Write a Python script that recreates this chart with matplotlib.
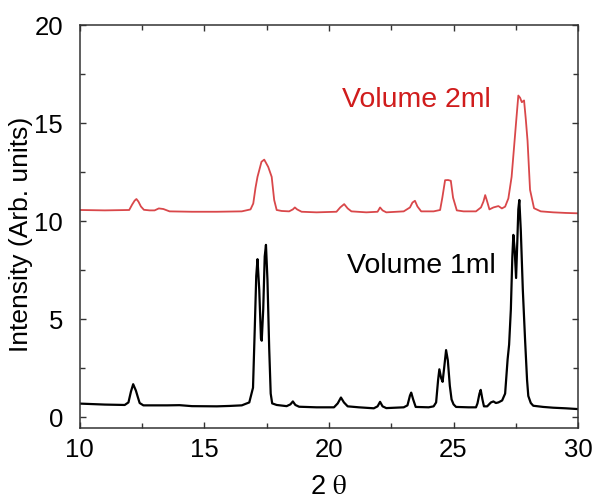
import matplotlib
matplotlib.use("Agg")
import matplotlib.pyplot as plt
from matplotlib.ticker import MultipleLocator

plt.rcParams["font.family"] = ["Liberation Sans", "DejaVu Sans"]
plt.rcParams["mathtext.fontset"] = "stix"

# XRD pattern, 1 ml sample
two_theta_1ml = [10.0, 11.0, 11.8, 11.95, 12.05, 12.14, 12.25, 12.32, 12.4, 12.55, 13.5, 14.0,
                 14.5, 15.5, 16.0, 16.5, 16.8, 16.95, 17.02, 17.08, 17.13, 17.2, 17.27, 17.3,
                 17.36, 17.42, 17.47, 17.53, 17.6, 17.66, 17.72, 17.9, 18.3, 18.45, 18.55,
                 18.65, 18.8, 19.5, 20.2, 20.35, 20.48, 20.6, 20.75, 21.2, 21.8, 21.95, 22.05,
                 22.15, 22.3, 23.0, 23.15, 23.25, 23.3, 23.38, 23.48, 24.0, 24.2, 24.3, 24.38,
                 24.43, 24.5, 24.56, 24.63, 24.7, 24.77, 24.85, 24.92, 25.0, 25.1, 25.6, 25.9,
                 25.96, 26.04, 26.09, 26.16, 26.22, 26.35, 26.5, 26.6, 26.7, 26.8, 26.95, 27.07,
                 27.17, 27.23, 27.3, 27.36, 27.4, 27.45, 27.51, 27.56, 27.6, 27.64, 27.7, 27.78,
                 27.87, 27.95, 28.0, 28.1, 28.2, 28.6, 29.0, 29.5, 30.0]
intensity_1ml = [0.69, 0.64, 0.62, 0.75, 1.3, 1.68, 1.35, 1.05, 0.72, 0.6, 0.6, 0.61,
                 0.56, 0.55, 0.57, 0.6, 0.75, 1.5, 4.5, 7.2, 8.06, 6.5, 4.0, 3.9,
                 5.5, 8.2, 8.79, 7.0, 3.5, 1.2, 0.7, 0.62, 0.56, 0.65, 0.8,
                 0.62, 0.53, 0.5, 0.5, 0.7, 1.0, 0.75, 0.55, 0.5, 0.45, 0.55, 0.78,
                 0.55, 0.46, 0.5, 0.6, 1.1, 1.25, 0.9, 0.52, 0.5, 0.55, 0.75, 1.9,
                 2.44, 2.0, 1.8, 2.6, 3.42, 2.9, 1.6, 0.9, 0.65, 0.52, 0.5, 0.5,
                 0.7, 1.2, 1.39, 0.9, 0.55, 0.55, 0.75, 0.8, 0.72, 0.75, 0.85, 1.2,
                 2.95, 3.7, 5.5, 8.2, 9.3, 8.6, 7.1, 9.0, 10.6, 11.08, 9.5, 6.5,
                 3.96, 1.9, 1.08, 0.72, 0.58, 0.52, 0.48, 0.45, 0.41]

# XRD pattern, 2 ml sample
two_theta_2ml = [10.0, 11.0, 11.98, 12.1, 12.2, 12.27, 12.35, 12.45, 12.57, 12.8, 13.0, 13.17,
                 13.35, 13.6, 14.5, 15.5, 16.5, 16.85, 16.96, 17.05, 17.13, 17.29, 17.4,
                 17.56, 17.7, 17.8, 17.9, 18.1, 18.4, 18.55, 18.63, 18.72, 18.9, 19.5, 20.3,
                 20.45, 20.61, 20.75, 20.9, 21.5, 21.95, 22.05, 22.15, 22.3, 23.0, 23.25,
                 23.35, 23.45, 23.55, 23.7, 24.2, 24.46, 24.55, 24.66, 24.78, 24.89, 24.98,
                 25.13, 25.4, 25.9, 26.1, 26.2, 26.27, 26.35, 26.44, 26.6, 26.8, 26.94,
                 27.07, 27.2, 27.33, 27.43, 27.52, 27.6, 27.67, 27.74, 27.83, 27.9, 27.97,
                 28.07, 28.23, 28.5, 29.0, 29.5, 30.0]
intensity_2ml = [10.57, 10.55, 10.57, 10.85, 11.05, 11.13, 11.0, 10.75, 10.58, 10.55, 10.55, 10.65,
                 10.62, 10.5, 10.48, 10.48, 10.5, 10.6, 10.9, 11.7, 12.26, 13.03, 13.14,
                 12.77, 12.26, 11.08, 10.57, 10.52, 10.5, 10.6, 10.7, 10.6, 10.48, 10.45, 10.48,
                 10.7, 10.87, 10.65, 10.5, 10.45, 10.48, 10.7, 10.55, 10.45, 10.5, 10.7,
                 10.95, 11.04, 10.75, 10.5, 10.5, 10.57, 11.2, 12.09, 12.1, 12.06, 11.2,
                 10.55, 10.5, 10.5, 10.7, 11.0, 11.33, 11.0, 10.6, 10.7, 10.77, 10.65,
                 10.74, 11.16, 12.26, 13.8, 15.2, 16.41, 16.3, 16.07, 16.16, 15.2, 14.1,
                 11.6, 10.66, 10.5, 10.45, 10.42, 10.4]

fig = plt.figure(figsize=(5.96, 5.04), dpi=100)
ax = fig.add_axes([0.134, 0.151, 0.836, 0.799])

ax.plot(two_theta_2ml, intensity_2ml, color="#d9474a", lw=1.3)
ax.plot(two_theta_1ml, intensity_1ml, color="black", lw=1.6)

ax.set_xlim(10, 30)
ax.set_ylim(-0.55, 20)
ax.xaxis.set_major_locator(MultipleLocator(5))
ax.xaxis.set_minor_locator(MultipleLocator(2.5))
ax.yaxis.set_major_locator(MultipleLocator(5))
ax.yaxis.set_minor_locator(MultipleLocator(2.5))
ax.tick_params(which="both", direction="in", top=True, right=True,
               labelsize=18.5, width=1.0, color="#333333")
ax.tick_params(which="major", length=4.5)
ax.tick_params(which="minor", length=3.5)
ax.tick_params(axis="x", which="major", pad=7)
ax.tick_params(axis="y", which="major", pad=12)
for s in ax.spines.values():
    s.set_linewidth(1.1)
    s.set_color("#333333")

ax.set_xlabel(r"2 $\mathrm{\theta}$", fontsize=19.5)
ax.xaxis.set_label_coords(0.5, -0.115)
ax.set_ylabel("Intensity (Arb. units)", fontsize=19)
ax.yaxis.set_label_coords(-0.095, 0.48)

ax.text(20.52, 16.2, "Volume 2ml", color="#d01c1c", fontsize=20.5, va="center", ha="left")
ax.text(20.72, 7.7, "Volume 1ml", color="black", fontsize=20.5, va="center", ha="left")

fig.savefig("out.png", dpi=100)
